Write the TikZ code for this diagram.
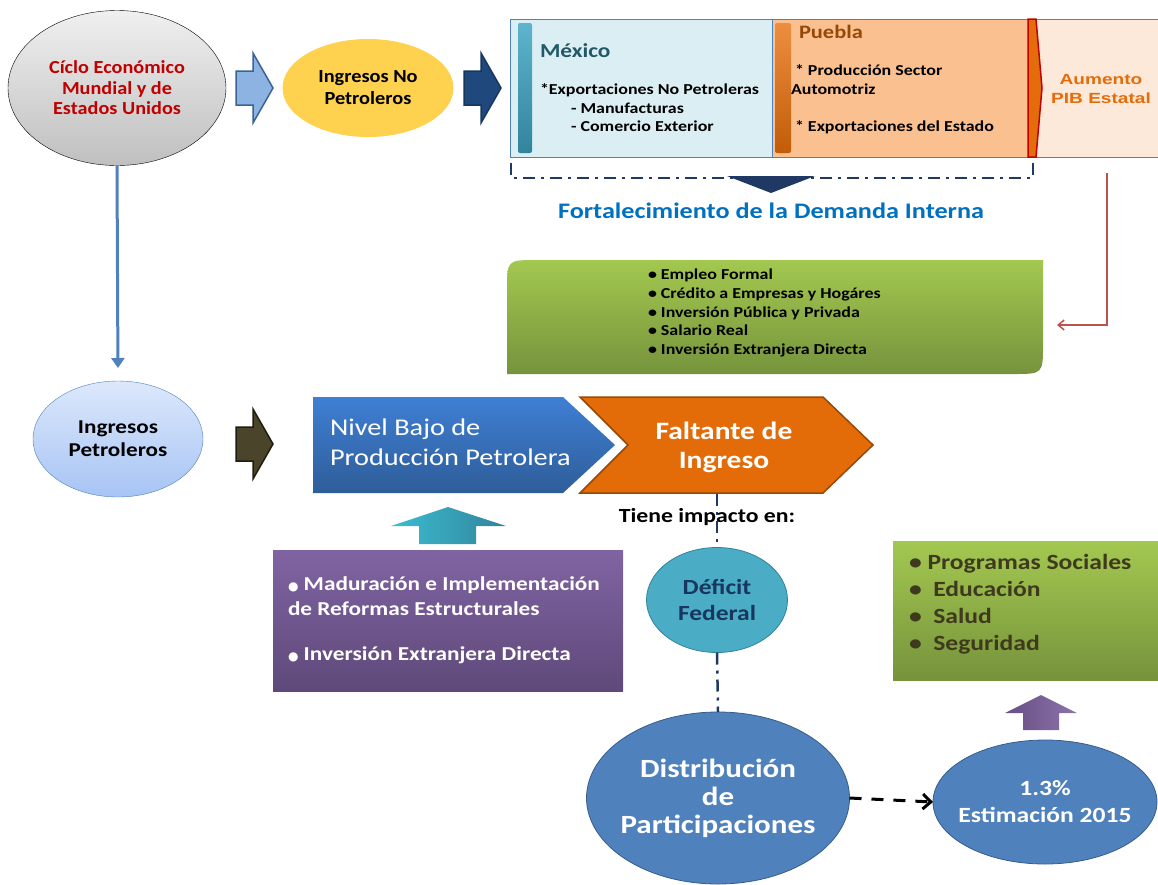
\documentclass[tikz,border=0pt]{standalone}
\usepackage{fontspec}
\setmainfont{Carlito}[FakeStretch=1.18]
\newfontfamily\narrowfont{Carlito}[FakeStretch=1.1]
\newfontfamily\arialfont{Liberation Sans}[FakeStretch=1.3]
\newfontfamily\dotfont{DejaVu Sans}
\usetikzlibrary{calc,shapes.geometric,arrows.meta}

\definecolor{cicloRed}{HTML}{C00000}
\definecolor{noPetYellow}{HTML}{FED24F}
\definecolor{lightArrow}{HTML}{8DB3E2}
\definecolor{lightArrowEdge}{HTML}{3B6293}
\definecolor{darkArrow}{HTML}{1F497D}
\definecolor{darkArrowEdge}{HTML}{17365D}
\definecolor{oliveArrow}{HTML}{4A452A}
\definecolor{oliveArrowEdge}{HTML}{1E1C10}
\definecolor{mexBlue}{HTML}{DBEEF4}
\definecolor{pueOrange}{HTML}{FAC090}
\definecolor{aumPeach}{HTML}{FDE9D9}
\definecolor{boxEdge}{HTML}{4F81BD}
\definecolor{mexTeal}{HTML}{215968}
\definecolor{pueBrown}{HTML}{974706}
\definecolor{aumOrange}{HTML}{E46C0A}
\definecolor{navyDash}{HTML}{1F3864}
\definecolor{fortBlue}{HTML}{0070C0}
\definecolor{redLine}{HTML}{C0504D}
\definecolor{greenTop}{HTML}{A3C850}
\definecolor{greenBot}{HTML}{76933C}
\definecolor{petroTop}{HTML}{DCE8FC}
\definecolor{petroBot}{HTML}{A7C4F4}
\definecolor{nivelTop}{HTML}{3F7FD4}
\definecolor{nivelBot}{HTML}{2E5D99}
\definecolor{faltOrange}{HTML}{E36C09}
\definecolor{faltEdge}{HTML}{984806}
\definecolor{defTeal}{HTML}{4BACC6}
\definecolor{defEdge}{HTML}{31849B}
\definecolor{defText}{HTML}{17375E}
\definecolor{purpTop}{HTML}{8064A2}
\definecolor{purpBot}{HTML}{5F497A}
\definecolor{socText}{HTML}{3F3A1E}
\definecolor{distBlue}{HTML}{4F81BD}
\definecolor{distEdge}{HTML}{385D8A}

\begin{document}
\begin{tikzpicture}[x=1pt,y=-1pt,every node/.style={outer sep=0pt,inner sep=0pt}]
\tikzstyle{bubble}=[ellipse,align=center]
\tikzstyle{blockarrow}=[line width=1.5pt]
\tikzstyle{dashdot}=[line width=2.5pt,navyDash,dash pattern=on 12pt off 6pt on 3pt off 6pt]
\tikzstyle{listtext}=[anchor=west,align=left]

\useasboundingbox (0,0) rectangle (1158,884);

% first row
\node (ciclo) [bubble,draw=black,thin,top color=gray!12,bottom color=gray!50,minimum width=218,minimum height=155,text=cicloRed,font=\narrowfont\bfseries\fontsize{18.4}{20.5}\selectfont] at (117,88) {Cíclo Económico\\Mundial y de\\Estados Unidos};
\node (noPet) [bubble,fill=noPetYellow,minimum width=171,minimum height=98,font=\narrowfont\bfseries\fontsize{18.5}{22}\selectfont] at (368,88) {Ingresos No\\Petroleros};

\foreach \px/\py/\fcol/\dcol in {236/88/lightArrow/lightArrowEdge,464/88/darkArrow/darkArrowEdge,236/444/oliveArrow/oliveArrowEdge}
  \draw [blockarrow,fill=\fcol,draw=\dcol,shift={(\px,\py)}] (0,-17) -- (17,-17) -- (17,-35) -- (37,0) -- (17,35) -- (17,17) -- (0,17) -- cycle;

\fill [mexBlue] (510,19) rectangle (772,157);
\fill [pueOrange] (772,19) rectangle (1036,157);
\fill [aumPeach] (1036,19) rectangle (1170,157);
\draw [boxEdge] (1170,19) -- (510,19) -- (510,157) -- (1170,157);
\draw [boxEdge] (772,19) -- (772,157);
\shade [rounded corners=2pt,top color=defTeal!90!white,bottom color=defEdge] (518,23) rectangle (532,153);
\shade [rounded corners=2pt,top color=pueOrange!40!aumOrange,bottom color=aumOrange!85!black] (775,23) rectangle (791,153);
\draw [line width=1.5pt,draw=cicloRed,fill=aumOrange] (1028,19) -- (1036,19) -- (1042,88) -- (1036,157) -- (1028,157) -- cycle;

\node (mexico) [anchor=west,text=mexTeal,font=\bfseries\fontsize{19.8}{22}\selectfont] at (540,51) {México};
\node (mexList) [listtext,font=\bfseries\fontsize{15.2}{18.5}\selectfont] at (540,108) {*Exportaciones No Petroleras\\\hspace*{31pt}- Manufacturas\\\hspace*{31pt}- Comercio Exterior};
\node (puebla) [anchor=west,text=pueBrown,font=\bfseries\fontsize{19}{22}\selectfont] at (799,32) {Puebla};
\node (pueb1) [anchor=west,font=\bfseries\fontsize{15.2}{18.5}\selectfont] at (795,70) {* Producción Sector};
\node (pueb2) [anchor=west,font=\bfseries\fontsize{15.2}{18.5}\selectfont] at (791,89) {Automotriz};
\node (pueb3) [anchor=west,font=\bfseries\fontsize{15.2}{18.5}\selectfont] at (795,127) {* Exportaciones del Estado};
\node (aumento) [align=center,text=aumOrange,font=\arialfont\bfseries\fontsize{14.7}{19}\selectfont] at (1101,89.5) {Aumento\\PIB Estatal};

\draw [dashdot] (511,163) -- (511,178) -- (1033,178) -- (1033,163);
\fill [navyDash] (727,176) -- (815,176) -- (771,193) -- cycle;
\node (fortal) [text=fortBlue,font=\bfseries\fontsize{22.2}{24}\selectfont] at (771,211) {Fortalecimiento de la Demanda Interna};

% demanda interna
\shade [top color=greenTop,bottom color=greenBot] (507,374) -- (507,290) .. controls (507,260) .. (537,260) -- (1043,260) -- (1043,344) .. controls (1043,374) .. (1013,374) -- cycle;
\node (demList) [listtext,font=\bfseries\fontsize{15.2}{18.7}\selectfont] at (648,313) {\textbullet\ Empleo Formal\\\textbullet\ Crédito a Empresas y Hogáres\\\textbullet\ Inversión Pública y Privada\\\textbullet\ Salario Real\\\textbullet\ Inversión Extranjera Directa};
\coordinate (pibOut) at (1107,173);
\coordinate (demIn) at (1057,325);
\draw [redLine,line width=1.5pt,-{Straight Barb[length=6pt,width=10pt]}] (pibOut) |- (demIn);

% second row
\node (petro) [bubble,draw=boxEdge,top color=petroTop,bottom color=petroBot,minimum width=170,minimum height=116,font=\bfseries\fontsize{19.6}{23}\selectfont] at (118,439) {Ingresos\\Petroleros};
\draw [boxEdge,line width=3pt,-{Triangle[length=10pt,width=13pt]},shorten >=13pt] (ciclo.south) -- (petro.north);

\shade [top color=nivelTop,bottom color=nivelBot] (313,397) -- (563,397) -- (615,445) -- (563,493) -- (313,493) -- cycle;
\node (nivel) [listtext,text=white,font=\fontsize{24}{30.5}\selectfont] at (330,442) {Nivel Bajo de\\Producción Petrolera};
\draw [fill=faltOrange,draw=faltEdge,line width=1.5pt] (580,397) -- (823,397) -- (873,445) -- (823,493) -- (580,493) -- (628,445) -- cycle;
\node (faltante) [align=center,text=white,font=\bfseries\fontsize{25}{29}\selectfont] at (724,447) {Faltante de\\Ingreso};
\coordinate (faltBottom) at (717,494);

\shade [left color=defTeal!80!cyan,right color=defEdge] (391,526) -- (448,507) -- (506,526) -- (476,526) -- (476,544) -- (419,544) -- (419,526) -- cycle;
\shade [top color=purpTop,bottom color=purpBot] (273,550) rectangle (623,691);
\node (reformas) [listtext,text=white,font=\bfseries\fontsize{19.7}{25}\selectfont] at (288,620) {{\dotfont\fontsize{12}{12}\selectfont ●} Maduración e Implementación\\de Reformas Estructurales\\[20pt]{\dotfont\fontsize{12}{12}\selectfont ●} Inversión Extranjera Directa};

% impacto
\node (deficit) [bubble,draw=defEdge,thick,fill=defTeal,minimum width=141,minimum height=105,text=defText,font=\bfseries\fontsize{21.6}{26}\selectfont] at (717,600) {Déficit\\Federal};
\node (distrib) [bubble,draw=distEdge,thick,fill=distBlue,minimum width=263,minimum height=172,label={[align=center,text=white,font=\bfseries\fontsize{26.3}{28}\selectfont]center:Distribución\\de\\Participaciones}] at (718,798) {};
\draw [dashdot] (faltBottom) -- (deficit.north);
\draw [dashdot] (deficit.south) -- (distrib.north);
\node (impacto) [font=\bfseries\fontsize{20.1}{22}\selectfont] at (707,517) {Tiene impacto en:};

\node (estim) [bubble,draw=distEdge,thick,fill=distBlue,minimum width=224,minimum height=124,label={[align=center,text=white,font=\bfseries\fontsize{21.7}{27}\selectfont]center:1.3\%\\Estimación 2015}] at (1045,802) {};
\draw [line width=3pt,dash pattern=on 12pt off 10pt,-{Straight Barb[length=8pt,width=15pt]}] (distrib.east) -- (estim.west);

\shade [left color=purpBot!80!purpTop,right color=purpTop!90!white] (1005,713) -- (1041,695) -- (1077,713) -- (1059,713) -- (1059,730) -- (1023,730) -- (1023,713) -- cycle;
\shade [top color=greenTop,bottom color=greenBot] (893,541) rectangle (1170,680);
\node (social) [listtext,text=socText,font=\bfseries\fontsize{21.7}{27}\selectfont] at (909,604) {\textbullet\ Programas Sociales\\\textbullet\ \ Educación\\\textbullet\ \ Salud\\\textbullet\ \ Seguridad};
\end{tikzpicture}
\end{document}
